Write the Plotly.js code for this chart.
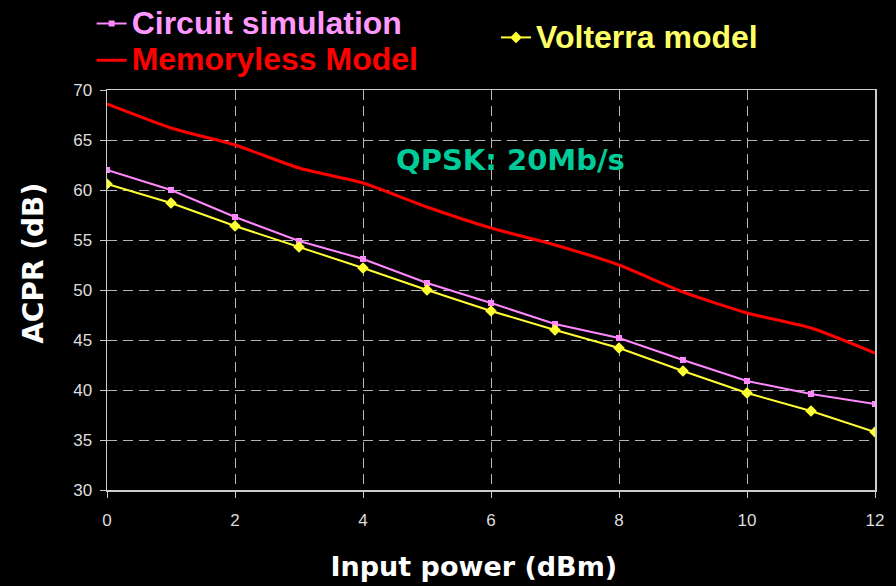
<!DOCTYPE html>
<html>
<head>
<meta charset="utf-8">
<script src="https://cdn.plot.ly/plotly-3.0.1.min.js"></script>
<style>html,body{margin:0;padding:0;background:#000;}#chart{width:896px;height:586px;}</style>
</head>
<body>
<div id="chart"></div>
<script>
const inputPower = [0,1,2,3,4,5,6,7,8,9,10,11,12];
const circuitSim = [62.0,60.0,57.3,54.9,53.1,50.7,48.7,46.6,45.2,43.0,40.9,39.6,38.6];
const memorylessModel = [68.6,66.2,64.5,62.2,60.7,58.3,56.2,54.5,52.5,49.8,47.7,46.2,43.7];
const volterraModel = [60.6,58.7,56.4,54.3,52.2,50.0,47.9,46.0,44.2,41.9,39.7,37.9,35.8];
const xTicks = [0,2,4,6,8,10,12];
const yTicks = [30,35,40,45,50,55,60,65,70];

const traces = [
  {x: inputPower, y: circuitSim, type:'scatter', mode:'lines+markers',
   name:'<span style="color:#ff99ff;font-size:32px"><b>Circuit simulation</b></span>',
   line:{color:'#ff88ff', width:2}, marker:{symbol:'square', size:6, color:'#ff88ff'}, legend:'legend'},
  {x: inputPower, y: memorylessModel, type:'scatter', mode:'lines',
   name:'<span style="color:#ff0000;font-size:32px"><b>Memoryless Model</b></span>',
   line:{color:'#ff0000', width:3, shape:'spline', smoothing:0.6}, legend:'legend'},
  {x: inputPower, y: volterraModel, type:'scatter', mode:'lines+markers',
   name:'<span style="color:#ffff66;font-size:32px"><b>Volterra model</b></span>',
   line:{color:'#ffff33', width:2}, marker:{symbol:'diamond', size:9, color:'#ffff33'}, legend:'legend2'}
];

const axisCommon = {
  showline:true, mirror:true, linecolor:'#cccccc', linewidth:1.5,
  ticks:'outside', ticklen:6, tickcolor:'#cccccc', tickwidth:1,
  showgrid:true, gridcolor:'#b4b4b4', gridwidth:1, griddash:'10px,6px',
  zeroline:false,
  tickfont:{family:'Liberation Sans, Arial, sans-serif', size:17, color:'#dddddd'}
};

const layout = {
  width:896, height:586,
  paper_bgcolor:'#000000', plot_bgcolor:'#000000',
  margin:{l:107, r:21, t:90, b:96, autoexpand:false},
  showlegend:true,
  xaxis: Object.assign({}, axisCommon, {
    range:[0,12], tickvals:xTicks, ticktext:xTicks.map(String), ticklabelstandoff:8,
    title:{text:'<b>Input power (dBm)</b>&nbsp;&nbsp;&nbsp;&nbsp;', standoff:28,
           font:{family:'DejaVu Sans, sans-serif', size:27, color:'#ffffff'}}
  }),
  yaxis: Object.assign({}, axisCommon, {
    range:[30,70], tickvals:yTicks, ticktext:yTicks.map(String), ticklabelstandoff:4,
    title:{text:'&nbsp;&nbsp;&nbsp;&nbsp;&nbsp;&nbsp;<b>ACPR (dB)</b>', standoff:21,
           font:{family:'DejaVu Sans, sans-serif', size:28, color:'#ffffff'}}
  }),
  legend:{x:-0.02, xanchor:'left', y:1.225, yanchor:'top', bgcolor:'rgba(0,0,0,0)',
          font:{family:'Liberation Sans, Arial, sans-serif', size:26}, tracegroupgap:0, itemwidth:30},
  legend2:{x:0.5065, xanchor:'left', y:1.19, yanchor:'top', bgcolor:'rgba(0,0,0,0)',
          font:{family:'Liberation Sans, Arial, sans-serif', size:26}, itemwidth:30},
  annotations:[
    {xref:'paper', yref:'paper', x:0.525, y:0.825, xanchor:'center', yanchor:'middle', showarrow:false,
     text:'<b>QPSK: 20Mb/s</b>', font:{family:'DejaVu Sans, sans-serif', size:29, color:'#00cc99'}}
  ]
};

Plotly.newPlot('chart', traces, layout, {displayModeBar:false, staticPlot:true});
</script>
</body>
</html>
